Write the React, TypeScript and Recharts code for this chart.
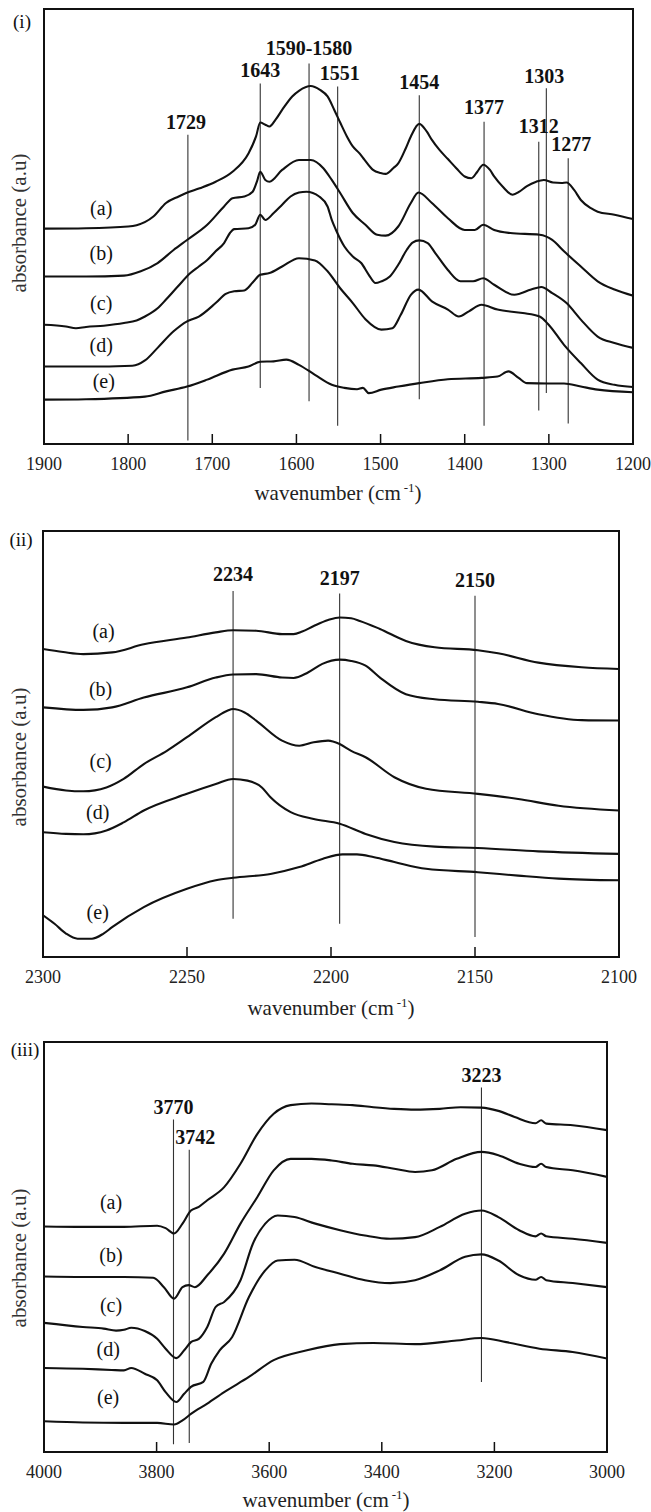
import React from 'react';
import { LineChart, Line, XAxis, YAxis, ReferenceLine, ReferenceDot, ReferenceArea } from 'recharts';

type Pt = [number, number];
type Band = { wn: number; text: string; lo: number; hi: number; ly: number };
type Tag = { wn: number; v: number; text: string };

const SERIF = '"Liberation Serif", "Times New Roman", serif';
const INK = '#111';

// ---------- Panel (i): 1900–1200 cm-1 ----------
const fpDomain: [number, number] = [1200, 1900];
const fpTicks = [1900, 1800, 1700, 1600, 1500, 1400, 1300, 1200];

const fpA: Pt[] = [
  [1900, 49.5], [1850, 49.6], [1800, 50.0], [1790, 50.3], [1770, 52.3], [1755, 55.4], [1740, 56.9], [1731, 57.7],
  [1715, 58.8], [1696, 60.3], [1676, 62.6], [1657, 66.8], [1648, 70.7], [1643, 73.9], [1637, 73.4], [1632, 73.0],
  [1625, 74.5], [1617, 76.8], [1605, 79.9], [1597, 81.2], [1583, 82.3], [1572, 81.4], [1563, 79.9], [1555, 76.8],
  [1548, 73.9], [1540, 70.7], [1533, 68.4], [1525, 66.8], [1519, 65.3], [1509, 63.0], [1500, 62.3], [1494, 62.1],
  [1485, 63.4], [1479, 64.5], [1470, 68.0], [1464, 70.7], [1454, 73.6], [1445, 71.8], [1439, 69.9], [1430, 67.6],
  [1420, 65.5], [1410, 63.4], [1400, 61.5], [1392, 61.1], [1385, 62.6], [1378, 64.2], [1370, 63.0], [1365, 61.5],
  [1355, 59.2], [1343, 57.3], [1335, 58.0], [1326, 59.3], [1315, 60.3], [1306, 60.7], [1295, 60.1], [1285, 60.0],
  [1279, 60.1], [1270, 58.4], [1262, 56.1], [1250, 54.2], [1242, 53.4], [1222, 52.7], [1200, 51.7],
];
const fpB: Pt[] = [
  [1900, 38.5], [1850, 38.5], [1805, 38.7], [1785, 39.7], [1765, 41.6], [1746, 44.6], [1730, 46.9], [1706, 50.4],
  [1686, 54.6], [1676, 56.5], [1662, 56.9], [1652, 58.0], [1647, 60.3], [1643, 62.6], [1637, 60.7], [1632, 60.3],
  [1617, 63.0], [1597, 65.3], [1583, 65.3], [1568, 63.4], [1558, 60.7], [1548, 57.7], [1533, 53.1], [1518, 50.4],
  [1504, 48.1], [1494, 47.9], [1479, 50.0], [1464, 55.4], [1455, 57.8], [1439, 55.4], [1420, 51.9], [1400, 49.2],
  [1388, 49.2], [1378, 50.4], [1365, 49.2], [1346, 48.5], [1311, 48.1], [1296, 46.9], [1282, 44.3], [1262, 40.8],
  [1242, 37.4], [1222, 35.5], [1200, 34.1],
];
const fpC: Pt[] = [
  [1900, 27.4], [1874, 27.0], [1862, 26.6], [1850, 26.9], [1829, 27.2], [1805, 27.8], [1790, 28.4], [1780, 29.3],
  [1765, 31.2], [1755, 33.2], [1741, 36.2], [1726, 39.3], [1716, 40.8], [1706, 42.3], [1696, 44.3], [1686, 46.2],
  [1679, 48.5], [1674, 49.4], [1657, 49.6], [1649, 50.4], [1643, 52.7], [1637, 51.5], [1627, 53.1], [1617, 55.0],
  [1607, 56.9], [1597, 57.8], [1588, 58.0], [1573, 56.9], [1563, 54.6], [1558, 51.5], [1553, 49.2], [1543, 45.4],
  [1533, 43.1], [1523, 41.6], [1514, 38.9], [1506, 37.0], [1499, 37.4], [1489, 38.5], [1479, 41.2], [1469, 44.6],
  [1462, 46.3], [1454, 46.8], [1444, 46.2], [1435, 43.9], [1420, 40.0], [1405, 37.4], [1390, 37.4], [1378, 38.1],
  [1365, 36.6], [1341, 34.3], [1321, 35.5], [1309, 36.1], [1296, 34.7], [1279, 32.4], [1262, 28.6], [1242, 24.7],
  [1222, 23.2], [1200, 22.1],
];
const fpD: Pt[] = [
  [1900, 17.8], [1850, 17.8], [1795, 18.0], [1780, 19.2], [1765, 22.1], [1746, 25.9], [1730, 28.2], [1716, 29.3],
  [1696, 32.4], [1684, 34.5], [1674, 35.1], [1662, 35.3], [1652, 37.1], [1643, 38.9], [1632, 39.3], [1617, 40.8],
  [1597, 42.7], [1578, 42.2], [1563, 39.7], [1548, 35.8], [1533, 32.4], [1518, 28.7], [1499, 26.3], [1486, 26.6],
  [1476, 29.7], [1464, 34.3], [1455, 35.5], [1439, 32.8], [1420, 30.9], [1407, 29.3], [1395, 30.5], [1380, 32.0],
  [1361, 30.9], [1331, 30.1], [1311, 29.3], [1301, 27.6], [1282, 22.8], [1262, 18.6], [1242, 14.8], [1222, 13.6],
  [1200, 13.1],
];
const fpE: Pt[] = [
  [1900, 10.2], [1850, 10.3], [1780, 10.9], [1755, 12.1], [1730, 13.2], [1706, 14.8], [1676, 17.1], [1657, 17.8],
  [1643, 18.9], [1627, 19.0], [1612, 19.4], [1597, 18.2], [1578, 15.9], [1558, 13.6], [1543, 12.9], [1528, 12.6],
  [1521, 12.9], [1514, 11.7], [1499, 12.5], [1479, 13.2], [1454, 14.0], [1420, 14.9], [1380, 15.2], [1361, 15.5],
  [1348, 16.7], [1336, 15.2], [1326, 14.0], [1301, 13.9], [1282, 13.9], [1262, 13.2], [1242, 12.5], [1200, 11.9],
];
const fpBands: Band[] = [
  { wn: 1729, text: '1729', lo: 0.8, hi: 71.1, ly: 74.1 },
  { wn: 1643, text: '1643', lo: 12.9, hi: 82.9, ly: 86.0 },
  { wn: 1585, text: '1590-1580', lo: 9.8, hi: 87.5, ly: 91.0 },
  { wn: 1551, text: '1551', lo: 4.2, hi: 82.2, ly: 85.2 },
  { wn: 1454, text: '1454', lo: 10.3, hi: 80.2, ly: 83.3 },
  { wn: 1377, text: '1377', lo: 4.2, hi: 74.1, ly: 77.4 },
  { wn: 1312, text: '1312', lo: 7.7, hi: 69.5, ly: 73.0 },
  { wn: 1303, text: '1303', lo: 11.7, hi: 81.8, ly: 84.6 },
  { wn: 1277, text: '1277', lo: 4.7, hi: 65.7, ly: 68.9 },
];
const fpTags: Tag[] = [
  { wn: 1832, v: 54.2, text: '(a)' },
  { wn: 1832, v: 43.9, text: '(b)' },
  { wn: 1832, v: 32.4, text: '(c)' },
  { wn: 1832, v: 22.8, text: '(d)' },
  { wn: 1829, v: 14.4, text: '(e)' },
];

// ---------- Panel (ii): 2300–2100 cm-1 ----------
const cnDomain: [number, number] = [2100, 2300];
const cnTicks = [2300, 2250, 2200, 2150, 2100];

const cnA: Pt[] = [
  [2300, 72.3], [2293, 71.6], [2286, 71.1], [2276, 71.5], [2265, 73.4], [2250, 75.0], [2240, 76.2], [2234, 76.7],
  [2226, 76.6], [2217, 75.8], [2213, 75.8], [2210, 76.4], [2206, 77.7], [2201, 79.1], [2197, 79.7], [2193, 79.5],
  [2190, 78.9], [2183, 77.0], [2174, 74.2], [2164, 72.7], [2149, 72.0], [2142, 71.3], [2128, 69.1], [2113, 68.0],
  [2100, 67.6],
];
const cnB: Pt[] = [
  [2300, 58.6], [2286, 58.0], [2276, 58.6], [2265, 60.9], [2250, 63.3], [2240, 65.6], [2234, 66.3], [2226, 66.4],
  [2217, 65.6], [2213, 65.5], [2208, 66.8], [2203, 68.8], [2197, 69.8], [2193, 69.5], [2188, 68.4], [2183, 65.6],
  [2174, 61.7], [2164, 60.5], [2149, 59.9], [2142, 59.4], [2128, 57.0], [2113, 55.6], [2100, 55.5],
];
const cnC: Pt[] = [
  [2300, 40.0], [2292, 39.1], [2286, 38.9], [2278, 39.8], [2272, 41.8], [2265, 45.3], [2257, 48.4], [2250, 51.6],
  [2240, 56.3], [2236, 57.8], [2234, 58.2], [2230, 57.4], [2226, 55.5], [2217, 50.8], [2211, 49.6], [2206, 50.4],
  [2201, 50.8], [2197, 50.0], [2193, 48.4], [2188, 46.9], [2178, 42.2], [2167, 39.5], [2149, 38.3], [2135, 37.1],
  [2121, 35.5], [2100, 34.4],
];
const cnD: Pt[] = [
  [2300, 29.3], [2292, 28.9], [2286, 28.8], [2278, 29.7], [2272, 31.6], [2265, 34.4], [2250, 38.3], [2240, 40.6],
  [2234, 41.8], [2229, 41.4], [2224, 39.8], [2221, 37.5], [2214, 34.0], [2206, 32.4], [2197, 31.3], [2188, 28.9],
  [2178, 27.0], [2164, 25.9], [2149, 25.6], [2128, 24.8], [2100, 24.2],
];
const cnE: Pt[] = [
  [2300, 9.8], [2296, 7.8], [2292, 5.5], [2288, 4.3], [2283, 4.3], [2279, 5.5], [2276, 7.0], [2265, 11.7],
  [2250, 16.0], [2240, 18.0], [2234, 18.6], [2221, 19.5], [2211, 21.1], [2203, 23.0], [2196, 24.1], [2191, 24.1],
  [2185, 23.4], [2178, 22.3], [2167, 20.7], [2149, 19.9], [2135, 19.1], [2121, 18.4], [2100, 18.0],
];
const cnBands: Band[] = [
  { wn: 2234, text: '2234', lo: 9.0, hi: 85.9, ly: 89.8 },
  { wn: 2197, text: '2197', lo: 7.8, hi: 85.3, ly: 88.9 },
  { wn: 2150, text: '2150', lo: 4.7, hi: 84.8, ly: 88.4 },
];
const cnTags: Tag[] = [
  { wn: 2279, v: 76.6, text: '(a)' },
  { wn: 2280, v: 62.9, text: '(b)' },
  { wn: 2280, v: 45.9, text: '(c)' },
  { wn: 2281, v: 34.0, text: '(d)' },
  { wn: 2281, v: 10.5, text: '(e)' },
];

// ---------- Panel (iii): 4000–3000 cm-1 ----------
const ohDomain: [number, number] = [3000, 4000];
const ohTicks = [4000, 3800, 3600, 3400, 3200, 3000];

const ohA: Pt[] = [
  [4000, 55.0], [3931, 54.9], [3858, 54.9], [3799, 55.2], [3784, 54.6], [3769, 53.3], [3754, 55.7], [3739, 58.9],
  [3725, 59.8], [3710, 61.4], [3680, 64.6], [3651, 70.3], [3621, 77.6], [3592, 82.5], [3562, 84.6], [3525, 85.0],
  [3489, 84.8], [3452, 84.6], [3415, 84.1], [3378, 83.7], [3341, 83.5], [3297, 83.7], [3260, 84.1], [3223, 84.0],
  [3193, 83.2], [3164, 81.7], [3127, 80.2], [3117, 80.9], [3108, 80.1], [3061, 79.7], [3000, 78.5],
];
const ohB: Pt[] = [
  [4000, 42.8], [3931, 42.7], [3858, 42.7], [3806, 42.5], [3787, 40.2], [3769, 37.4], [3754, 40.2], [3743, 40.7],
  [3732, 40.2], [3710, 43.1], [3680, 48.4], [3651, 55.7], [3621, 62.2], [3592, 68.7], [3562, 71.5], [3525, 71.5],
  [3489, 71.1], [3452, 70.3], [3415, 69.9], [3378, 69.1], [3341, 68.3], [3311, 68.7], [3267, 71.5], [3223, 73.2],
  [3193, 72.4], [3156, 70.3], [3127, 69.5], [3117, 70.3], [3108, 69.5], [3061, 68.7], [3000, 67.1],
];
const ohC: Pt[] = [
  [4000, 31.5], [3931, 30.5], [3894, 30.1], [3872, 29.6], [3858, 29.8], [3845, 30.3], [3821, 29.5], [3799, 27.6],
  [3784, 25.2], [3765, 22.9], [3751, 24.8], [3739, 26.8], [3725, 27.6], [3710, 30.5], [3695, 35.4], [3680, 36.6],
  [3651, 41.9], [3629, 50.8], [3607, 55.7], [3585, 57.7], [3555, 57.3], [3518, 55.7], [3474, 54.1], [3430, 52.8],
  [3385, 52.0], [3341, 52.4], [3297, 54.9], [3252, 58.1], [3223, 58.9], [3193, 57.3], [3156, 54.1], [3127, 52.6],
  [3117, 53.3], [3108, 52.6], [3061, 52.0], [3000, 51.0],
];
const ohD: Pt[] = [
  [4000, 20.5], [3931, 20.3], [3880, 20.0], [3858, 19.9], [3845, 20.5], [3821, 19.1], [3799, 17.5], [3784, 14.6],
  [3765, 12.2], [3751, 14.2], [3739, 15.9], [3717, 17.1], [3703, 21.5], [3688, 24.8], [3666, 28.0], [3636, 37.8],
  [3607, 44.3], [3585, 46.7], [3555, 46.9], [3518, 45.1], [3474, 43.5], [3430, 41.9], [3385, 41.2], [3341, 41.9],
  [3297, 44.3], [3252, 47.6], [3223, 48.2], [3193, 46.7], [3156, 43.1], [3127, 42.0], [3117, 42.7], [3108, 41.9],
  [3061, 41.2], [3000, 40.2],
];
const ohE: Pt[] = [
  [4000, 7.5], [3931, 7.2], [3858, 7.1], [3799, 7.1], [3769, 6.7], [3754, 7.7], [3739, 9.3], [3710, 11.8],
  [3680, 14.6], [3636, 18.3], [3592, 22.4], [3533, 24.8], [3474, 26.3], [3415, 26.6], [3341, 26.3], [3267, 27.2],
  [3223, 27.8], [3179, 26.8], [3120, 25.2], [3061, 24.4], [3000, 22.8],
];
const ohBands: Band[] = [
  { wn: 3770, text: '3770', lo: 1.9, hi: 81.1, ly: 84.1 },
  { wn: 3742, text: '3742', lo: 2.2, hi: 73.7, ly: 76.8 },
  { wn: 3223, text: '3223', lo: 17.1, hi: 88.9, ly: 91.9 },
];
const ohTags: Tag[] = [
  { wn: 3881, v: 61.0, text: '(a)' },
  { wn: 3881, v: 48.0, text: '(b)' },
  { wn: 3881, v: 35.8, text: '(c)' },
  { wn: 3886, v: 25.2, text: '(d)' },
  { wn: 3886, v: 13.4, text: '(e)' },
];

// small horizontal nudges for band labels that sit off-centre from their line
const labelNudge: Record<string, number> = { '1729': -2, '1551': 2, '1277': 3, '1303': -2, '3742': 6 };

const toRows = (pts: Pt[]) => pts.map(([wn, v]) => ({ wn, v }));

const makeLabel = (text: string, bold: boolean, dx: number) => (props: any) => {
  const vb = props.viewBox || {};
  const cx = (vb.x ?? 0) + (vb.width ?? 0) / 2 + dx;
  const cy = (vb.y ?? 0) + (vb.height ?? 0) / 2;
  return (
    <text
      x={cx}
      y={cy + 7}
      textAnchor="middle"
      fontFamily={SERIF}
      fontSize={20}
      fontWeight={bold ? 'bold' : 'normal'}
      fill={INK}
    >
      {text}
    </text>
  );
};

interface PanelProps {
  top: number;
  height: number;
  margin: { top: number; left: number; right: number; bottom: number };
  axisHeight: number;
  domain: [number, number];
  ticks: number[];
  series: Pt[][];
  bands: Band[];
  tags: Tag[];
}

function Panel({ top, height, margin, axisHeight, domain, ticks, series, bands, tags }: PanelProps) {
  return (
    <div style={{ position: 'absolute', left: 0, top }}>
      <LineChart width={651} height={height} margin={margin}>
        <XAxis
          type="number"
          dataKey="wn"
          domain={domain}
          reversed
          ticks={ticks}
          interval={0}
          allowDataOverflow
          height={axisHeight}
          axisLine={false}
          tickSize={-10}
          tickMargin={23}
          tickLine={{ stroke: INK, strokeWidth: 1.5 }}
          tick={{ fill: '#222', fontSize: 18, fontFamily: SERIF }}
        />
        <YAxis type="number" domain={[0, 100]} hide allowDataOverflow />
        <ReferenceArea
          x1={domain[0]}
          x2={domain[1]}
          y1={0}
          y2={100}
          fill="none"
          fillOpacity={0}
          stroke={INK}
          strokeWidth={2}
          ifOverflow="visible"
        />
        {bands.map((b) => (
          <ReferenceLine
            key={'l' + b.text}
            segment={[{ x: b.wn, y: b.lo }, { x: b.wn, y: b.hi }]}
            stroke="#333"
            strokeWidth={1.1}
            ifOverflow="visible"
          />
        ))}
        {series.map((s, i) => (
          <Line
            key={i}
            data={toRows(s)}
            dataKey="v"
            type="monotone"
            stroke={INK}
            strokeWidth={2.1}
            dot={false}
            activeDot={false}
            isAnimationActive={false}
          />
        ))}
        {bands.map((b) => (
          <ReferenceDot
            key={'t' + b.text}
            x={b.wn}
            y={b.ly}
            r={0}
            fill="none"
            stroke="none"
            ifOverflow="visible"
            label={makeLabel(b.text, true, labelNudge[b.text] ?? 0)}
          />
        ))}
        {tags.map((t) => (
          <ReferenceDot
            key={'g' + t.text}
            x={t.wn}
            y={t.v}
            r={0}
            fill="none"
            stroke="none"
            ifOverflow="visible"
            label={makeLabel(t.text, false, 0)}
          />
        ))}
      </LineChart>
    </div>
  );
}

function AxisTitle({ x, y }: { x: number; y: number }) {
  return (
    <text x={x} y={y + 7} textAnchor="middle" fontFamily={SERIF} fontSize={21} fill="#222">
      wavenumber (cm
      <tspan dx={3} dy={-8} fontSize={13}>-1</tspan>
      <tspan dy={8}>)</tspan>
    </text>
  );
}

function YTitle({ x, y }: { x: number; y: number }) {
  return (
    <text
      transform={`translate(${x}, ${y}) rotate(-90)`}
      x={0}
      y={7}
      textAnchor="middle"
      fontFamily={SERIF}
      fontSize={21}
      fill="#333"
    >
      absorbance (a.u)
    </text>
  );
}

export default function App() {
  return (
    <div style={{ position: 'absolute', left: 0, top: 0, width: 651, height: 1512, background: '#fff' }}>
      <Panel
        top={0}
        height={510}
        margin={{ top: 9, left: 44, right: 18, bottom: 0 }}
        axisHeight={66}
        domain={fpDomain}
        ticks={fpTicks}
        series={[fpA, fpB, fpC, fpD, fpE]}
        bands={fpBands}
        tags={fpTags}
      />
      <Panel
        top={520}
        height={497}
        margin={{ top: 11, left: 43, right: 32, bottom: 0 }}
        axisHeight={60}
        domain={cnDomain}
        ticks={cnTicks}
        series={[cnA, cnB, cnC, cnD, cnE]}
        bands={cnBands}
        tags={cnTags}
      />
      <Panel
        top={1030}
        height={482}
        margin={{ top: 12, left: 44, right: 44, bottom: 0 }}
        axisHeight={60}
        domain={ohDomain}
        ticks={ohTicks}
        series={[ohA, ohB, ohC, ohD, ohE]}
        bands={ohBands}
        tags={ohTags}
      />
      <svg
        width={651}
        height={1512}
        style={{ position: 'absolute', left: 0, top: 0, pointerEvents: 'none' }}
      >
        <g fontFamily={SERIF} fontSize={19} fill={INK}>
          <text x={22} y={28} textAnchor="middle">(i)</text>
          <text x={21} y={546} textAnchor="middle">(ii)</text>
          <text x={25} y={1056} textAnchor="middle">(iii)</text>
        </g>
        <YTitle x={19} y={223} />
        <YTitle x={19} y={757} />
        <YTitle x={19} y={1258} />
        <AxisTitle x={338} y={493} />
        <AxisTitle x={331} y={1008} />
        <AxisTitle x={326} y={1500} />
      </svg>
    </div>
  );
}
